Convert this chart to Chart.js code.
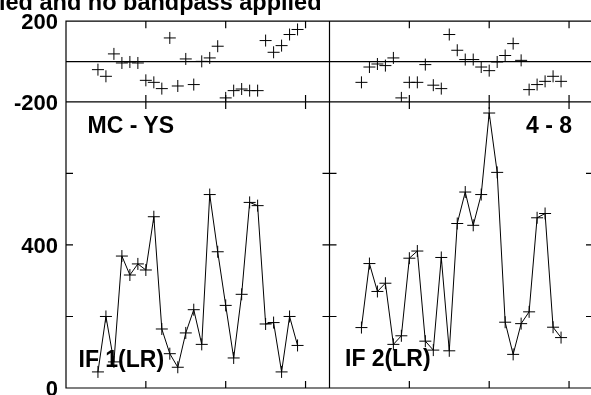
<!DOCTYPE html>
<html>
<head>
<meta charset="utf-8">
<script src="https://cdn.jsdelivr.net/npm/chart.js@4.4.1/dist/chart.umd.min.js"></script>
<style>
  html, body { margin: 0; padding: 0; background: #fff; overflow: hidden; }
  #wrap { position: relative; width: 591px; height: 395px; overflow: hidden; }
  #c { position: absolute; left: 0; top: 0; }
  .lbl { position: absolute; font: bold 23px "Liberation Sans", Arial, sans-serif; line-height: 1; color: #000; white-space: nowrap; }
</style>
</head>
<body>
<div id="wrap">
  <canvas id="c" width="600" height="410"></canvas>
  <div class="lbl" style="left:-1px; top:-9px; font-size:23.5px">led and no bandpass applied</div>
  <div class="lbl" style="left:87.5px; top:113.5px">MC - YS</div>
  <div class="lbl" style="left:526px; top:113.5px">4 - 8</div>
  <div class="lbl" style="left:78.5px; top:347.5px">IF 1(LR)</div>
  <div class="lbl" style="left:345px; top:347px">IF 2(LR)</div>
</div>
<script>
// sample number along x, same for all four panels
const samples = [4, 5, 6, 7, 8, 9, 10, 11, 12, 13, 14, 15, 16, 17, 18, 19, 20, 21, 22, 23, 24, 25, 26, 27, 28, 29];

// upper panels (crosses only)
const topLeft = [-40, -73, 38, -7, -2, -7, -93, -103, -134, 117, -121, 13, -114, 1, 18, 76, -180, -144, -136, -144, -144, 104, 46, 79, 134, 159];
const topRight = [-103, -27, -12, -20, 18, -180, -103, -103, -15, -117, -134, 134, 56, 10, 10, -27, -45, -2, 30, 89, 6, -139, -114, -98, -73, -98];

// lower panels (line + crosses)
const botLeft = [45, 200, 73, 369, 316, 347, 330, 479, 165, 96, 58, 154, 219, 122, 541, 381, 231, 84, 262, 519, 510, 179, 183, 45, 200, 119];
const botRight = [169, 348, 270, 293, 122, 146, 363, 383, 131, 106, 365, 104, 460, 548, 455, 541, 769, 603, 184, 94, 180, 213, 476, 488, 170, 141];

// ticks
const xTicks = [10, 20, 30];
const topTicks = [200, 0, -200];
const topLabels = [200, -200];
const botTicks = [0, 200, 400, 600, 800];
const botLabels = [400, 0];

const pts = arr => samples.map((s, i) => ({ x: s, y: arr[i] }));

const cross = {
    pointStyle: 'cross',
    pointRadius: 6,
    pointHoverRadius: 6,
    pointBorderWidth: 1,
    borderColor: '#000',
    backgroundColor: '#000'
};

// frame, inward tick marks and zero line of each panel
const panelFrame = {
    id: 'panelFrame',
    beforeDatasetsDraw(chart) {
        const ctx = chart.ctx;
        const cols = [chart.scales.xL, chart.scales.xR];
        const rows = [chart.scales.yTop, chart.scales.yBot];
        const len = 7;
        ctx.save();
        ctx.strokeStyle = '#000';
        ctx.lineWidth = 1.2;
        ctx.beginPath();
        cols.forEach(xs => {
            rows.forEach((ys, r) => {
                ctx.rect(xs.left, ys.top, xs.right - xs.left, ys.bottom - ys.top);
                xTicks.forEach(v => {
                    const px = xs.getPixelForValue(v);
                    ctx.moveTo(px, ys.top); ctx.lineTo(px, ys.top + len);
                    ctx.moveTo(px, ys.bottom); ctx.lineTo(px, ys.bottom - len);
                });
                (r === 0 ? topTicks : botTicks).forEach(v => {
                    const py = ys.getPixelForValue(v);
                    ctx.moveTo(xs.left, py); ctx.lineTo(xs.left + len, py);
                    ctx.moveTo(xs.right, py); ctx.lineTo(xs.right - len, py);
                });
            });
        });
        const y0 = rows[0].getPixelForValue(0);
        ctx.moveTo(cols[0].left, y0);
        ctx.lineTo(cols[1].right, y0);
        ctx.stroke();
        ctx.restore();
    }
};

const tickFont = { family: 'Liberation Sans', weight: 'bold', size: 22 };

function yAxis(tickList, labelList, lo, hi, h, w) {
    return {
        type: 'linear',
        position: 'left',
        stack: 'rows',
        stackWeight: h,
        weight: w,
        min: lo,
        max: hi,
        afterBuildTicks: s => { s.ticks = tickList.map(v => ({ value: v })); },
        afterFit: s => { s.width = 66; },
        grid: { display: false, drawTicks: false },
        border: { display: false },
        ticks: {
            autoSkip: false,
            padding: 8,
            labelOffset: 2,
            color: '#000',
            font: tickFont,
            callback: v => labelList.includes(v) ? String(v) : ''
        }
    };
}

function xAxis() {
    return { type: 'linear', position: 'bottom', stack: 'cols', stackWeight: 1, min: 0, max: 33, display: false };
}

new Chart(document.getElementById('c'), {
    type: 'scatter',
    data: {
        datasets: [
            { data: pts(topLeft), xAxisID: 'xL', yAxisID: 'yTop', showLine: false, ...cross },
            { data: pts(topRight), xAxisID: 'xR', yAxisID: 'yTop', showLine: false, ...cross },
            { data: pts(botLeft), xAxisID: 'xL', yAxisID: 'yBot', showLine: true, borderWidth: 1, tension: 0, ...cross },
            { data: pts(botRight), xAxisID: 'xR', yAxisID: 'yBot', showLine: true, borderWidth: 1, tension: 0, ...cross }
        ]
    },
    options: {
        responsive: false,
        devicePixelRatio: 1,
        animation: false,
        events: [],
        layout: { padding: { left: 0, top: 20, right: 4, bottom: 22 } },
        scales: {
            yTop: yAxis(topTicks, topLabels, -200, 200, 81, 1),
            yBot: yAxis(botTicks, botLabels, 0, 800, 287, 0),
            xL: xAxis(),
            xR: xAxis()
        },
        plugins: { legend: { display: false }, tooltip: { enabled: false } }
    },
    plugins: [panelFrame]
});
</script>
</body>
</html>
